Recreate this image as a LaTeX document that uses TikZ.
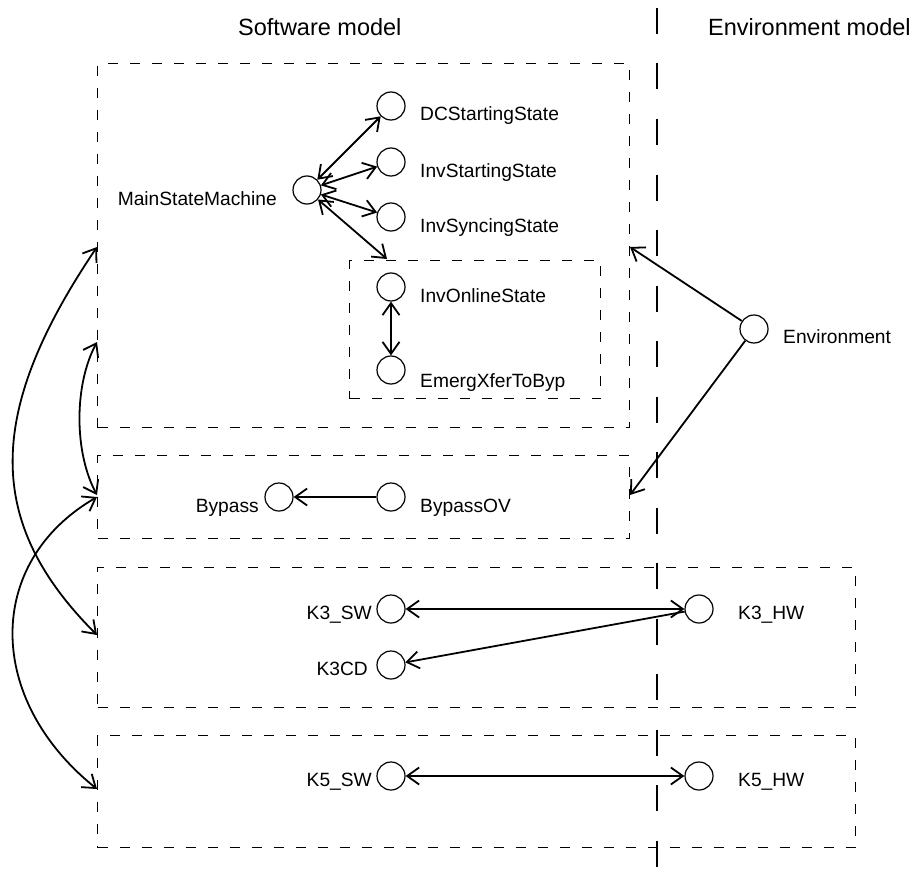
\documentclass[tikz,border=0pt]{standalone}
\usepackage{fontspec}
\setmainfont{Liberation Sans}
\usetikzlibrary{arrows.meta}

\begin{document}
\begin{tikzpicture}[x=1pt,y=-1pt,
  >={Straight Barb[length=12pt,width=17pt]},
  state/.style={circle,draw,line width=1.2pt,minimum size=28pt,inner sep=0pt,fill=white},
  lbl/.style={font=\fontsize{19.2}{22}\selectfont,inner sep=0pt},
  head/.style={font=\fontsize{23.5}{27}\selectfont,inner sep=0pt},
  group/.style={draw,line width=1.1pt,dash pattern=on 10pt off 12pt,inner sep=0pt,anchor=north west},
  divider/.style={line width=2.6pt,dash pattern=on 26pt off 29.5pt},
  link/.style={line width=1.8pt}]

\useasboundingbox (0,0) rectangle (918,872);
\fill[white] (0,0) rectangle (918,872);

% column headings and the split between the two models
\node[head,anchor=base west] (swhead) at (238,36) {Software model};
\node[head,anchor=base west] (envhead) at (708,36) {Environment model};
\coordinate (divtop) at (657,8);
\coordinate (divbot) at (657,872);
\draw[divider] (divtop) -- (divbot);

% grouping boxes
\node[group,minimum width=532pt,minimum height=364pt] (mainbox) at (97,63) {};
\node[group,minimum width=251pt,minimum height=138pt] (onlinebox) at (349,260) {};
\node[group,minimum width=532pt,minimum height=83pt] (bypassbox) at (97,455) {};
\node[group,minimum width=758pt,minimum height=140pt] (kthreebox) at (97,567) {};
\node[group,minimum width=758pt,minimum height=112pt] (kfivebox) at (97,735) {};

% states
\node[state] (msm) at (307,190) {};
\node[lbl,anchor=base east] (msmL) at (277,205) {MainStateMachine};
\node[state] (dc) at (391,106) {};
\node[lbl,anchor=base west] (dcL) at (420,121) {DCStartingState};
\node[state] (ist) at (391,162) {};
\node[lbl,anchor=base west] (istL) at (420,177) {InvStartingState};
\node[state] (isy) at (391,217) {};
\node[lbl,anchor=base west] (isyL) at (420,232) {InvSyncingState};
\node[state] (ion) at (391,287) {};
\node[lbl,anchor=base west] (ionL) at (420,302) {InvOnlineState};
\node[state] (emx) at (391,370) {};
\node[lbl,anchor=base west] (emxL) at (420,387) {EmergXferToByp};
\node[state] (byp) at (279,497) {};
\node[lbl,anchor=base east] (bypL) at (259,512) {Bypass};
\node[state] (bov) at (391,497) {};
\node[lbl,anchor=base west] (bovL) at (420,512) {BypassOV};
\node[state] (env) at (754,329) {};
\node[lbl,anchor=base west] (envL) at (783,343) {Environment};
\node[state] (kthreesw) at (391,609) {};
\node[lbl,anchor=base east] (kthreeswL) at (372,619) {K3\_SW};
\node[state] (kthreecd) at (391,665) {};
\node[lbl,anchor=base east] (kthreecdL) at (368,675) {K3CD};
\node[state] (kthreehw) at (699,609) {};
\node[lbl,anchor=base west] (kthreehwL) at (738,619) {K3\_HW};
\node[state] (kfivesw) at (391,776) {};
\node[lbl,anchor=base east] (kfiveswL) at (372,786) {K5\_SW};
\node[state] (kfivehw) at (699,776) {};
\node[lbl,anchor=base west] (kfivehwL) at (738,786) {K5\_HW};

% attachment points on box borders
\coordinate (onlinetop) at (387,259);
\coordinate (envmain) at (630,247);
\coordinate (envbyp) at (630,495);
\coordinate (mainA) at (97,247);
\coordinate (mainB) at (97,342);
\coordinate (bypA) at (97,495);
\coordinate (bypB) at (97,497);
\coordinate (kthreeA) at (97,635);
\coordinate (kfiveA) at (97,789);

% transitions
\draw[link,<->] (msm) -- (dc);
\draw[link,<->] (msm) -- (ist);
\draw[link,<->] (msm) -- (isy);
\draw[link,<->] (msm) -- (onlinetop);
\draw[link,<->] (ion) -- (emx);
\draw[link,->] (bov) -- (byp);
\draw[link,->] (env) -- (envmain);
\draw[link,->] (env) -- (envbyp);
\draw[link,<->] (kthreesw) -- (kthreehw);
\draw[link,->] (kthreehw) -- (kthreecd);
\draw[link,<->] (kfivesw) -- (kfivehw);

% links between the groups
\draw[link,<->] (mainA) .. controls (-15,413) and (-15,523) .. (kthreeA);
\draw[link,<->] (mainB) .. controls (74,385) and (74,452) .. (bypA);
\draw[link,<->] (bypB) .. controls (-15,562) and (-15,699) .. (kfiveA);
\end{tikzpicture}
\end{document}
